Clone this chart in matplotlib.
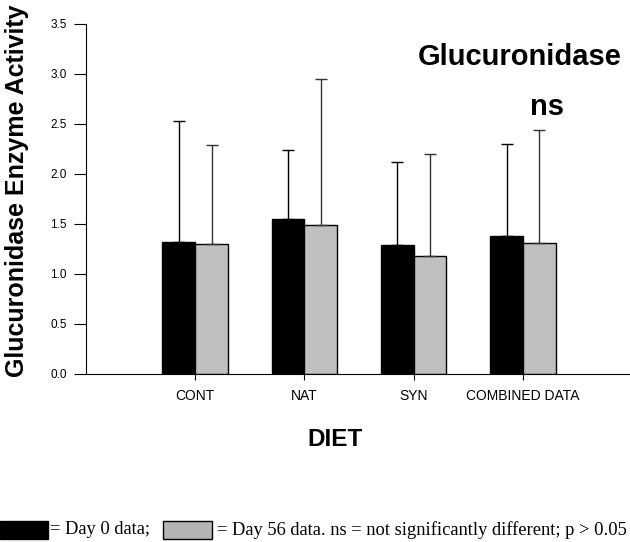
import matplotlib
matplotlib.use('Agg')
import matplotlib.pyplot as plt
from matplotlib.patches import Rectangle

# values
diets = ['CONT', 'NAT', 'SYN', 'COMBINED DATA']
day0_mean = [1.32, 1.55, 1.29, 1.38]
day0_top = [2.53, 2.24, 2.12, 2.30]
day56_mean = [1.30, 1.49, 1.18, 1.31]
day56_top = [2.29, 2.95, 2.20, 2.44]

day0_err = [t - m for t, m in zip(day0_top, day0_mean)]
day56_err = [t - m for t, m in zip(day56_top, day56_mean)]

plt.rcParams['font.family'] = 'Liberation Sans'

fig = plt.figure(figsize=(6.3, 5.42), dpi=100)
ax = fig.add_axes([86 / 630, 168 / 542, 544 / 630, 350 / 542])

pos = list(range(1, len(diets) + 1))
w = 0.3
ax.bar([p - w / 2 for p in pos], day0_mean, w, color='black', edgecolor='black', linewidth=1,
       yerr=[[0] * 4, day0_err], error_kw=dict(ecolor='black', elinewidth=1, capsize=4.5, capthick=1))
ax.bar([p + w / 2 for p in pos], day56_mean, w, color='#c0c0c0', edgecolor='black', linewidth=1,
       yerr=[[0] * 4, day56_err], error_kw=dict(ecolor='#333333', elinewidth=1, capsize=4.5, capthick=1))

ax.set_xlim(0, 4.98)
ax.set_ylim(0, 3.5)
ax.set_yticks([0, 0.5, 1.0, 1.5, 2.0, 2.5, 3.0, 3.5])
ax.set_yticklabels(['0.0', '0.5', '1.0', '1.5', '2.0', '2.5', '3.0', '3.5'], fontsize=8.5)
ax.set_xticks(pos)
ax.set_xticklabels(diets, fontsize=10)
ax.tick_params(axis='x', length=4, pad=7)
ax.tick_params(axis='y', length=9, pad=5)
ax.spines['top'].set_visible(False)
ax.spines['right'].set_visible(False)

fig.text(17 / 630, 1 - 191 / 542, 'Glucuronidase Enzyme Activity', fontsize=18, fontweight='bold',
         rotation=90, ha='center', va='center')
ax.text(3.97, 3.17, 'Glucuronidase', fontsize=21, fontweight='bold', ha='center', va='center')
ax.text(4.22, 2.67, 'ns', fontsize=21, fontweight='bold', ha='center', va='center')

fig.text(335 / 630, 1 - 440 / 542, 'DIET', fontsize=17.5, fontweight='bold',
         ha='center', va='center')

# key at the bottom
fig.patches.append(Rectangle((0, 1 - 539 / 542), 48 / 630, 18 / 542, transform=fig.transFigure,
                             facecolor='black', edgecolor='black'))
fig.patches.append(Rectangle((163 / 630, 1 - 539 / 542), 49 / 630, 18 / 542, transform=fig.transFigure,
                             facecolor='#b4b4b4', edgecolor='black', linewidth=1))
fig.text(50 / 630, 1 - 530 / 542, '= Day 0 data;', fontsize=13.3, family='Liberation Serif', va='center')
fig.text(217 / 630, 1 - 530 / 542, '= Day 56 data. ns = not significantly different; p > 0.05',
         fontsize=13.3, family='Liberation Serif', va='center')

fig.savefig('out.png', dpi=100)
